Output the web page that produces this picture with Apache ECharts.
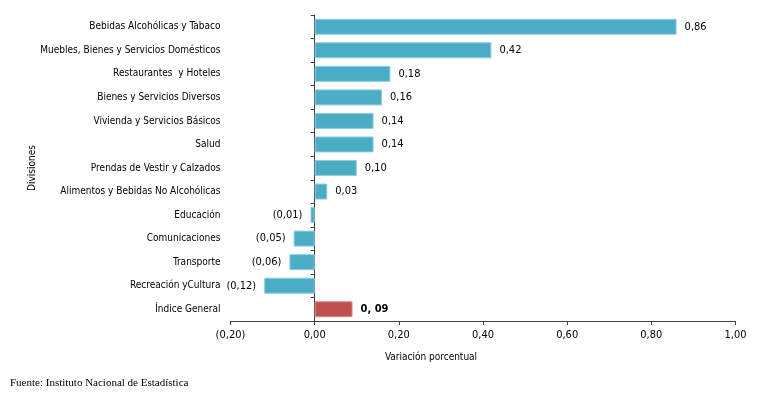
<!DOCTYPE html>
<html><head><meta charset="utf-8">
<script src="https://cdn.jsdelivr.net/npm/echarts@6/dist/echarts.min.js"></script>
<style>html,body{margin:0;padding:0;background:#fff}#c{width:766px;height:397px}</style>
</head><body><div id="c"></div>
<script>
const categories = ["Bebidas Alcohólicas y Tabaco","Muebles, Bienes y Servicios Domésticos","Restaurantes  y Hoteles","Bienes y Servicios Diversos","Vivienda y Servicios Básicos","Salud","Prendas de Vestir y Calzados","Alimentos y Bebidas No Alcohólicas","Educación","Comunicaciones","Transporte","Recreación yCultura","Índice General"];
const values = [0.86,0.42,0.18,0.16,0.14,0.14,0.10,0.03,-0.01,-0.05,-0.06,-0.12,0.09];
const xTicks = [-0.2,0,0.2,0.4,0.6,0.8,1.0];
const FONT = '"DejaVu Sans Condensed","Liberation Sans Narrow","Arial Narrow",sans-serif';
function fmt(v){if(Math.abs(v)<1e-9)v=0;const s=Math.abs(v).toFixed(2).replace('.',',');return v<0?'('+s+')':s;}
const chart = echarts.init(document.getElementById('c'));
const data = values.map((v,i)=>{
  const last = i===values.length-1;
  return {value:v,
    itemStyle:{color: last?'#C0504D':'#4BACC6', borderColor: last?'#D88C8A':'#8FCFE0', borderWidth:1},
    label:{show:true, position: v<0?'left':'right', distance:8,
      formatter: last? fmt(v).replace(',',', ') : fmt(v),
      fontWeight: last?'bold':'normal', color:'#000', fontSize:11, fontFamily:FONT}};
});
chart.setOption({
  animation:false,
  grid:{left:230.5,right:30.5,top:15,bottom:76,containLabel:false,outerBoundsMode:'none'},
  xAxis:{type:'value',min:-0.2,max:1.0,interval:0.2,
    axisLine:{show:true,onZero:false,lineStyle:{color:'#404040'}},
    axisTick:{show:true,length:4,lineStyle:{color:'#404040'}},
    splitLine:{show:false},
    axisLabel:{color:'#000',fontSize:11,fontFamily:FONT,margin:9,formatter:v=>fmt(v)}},
  yAxis:{type:'category',data:categories,inverse:true,
    axisLine:{show:true,onZero:true,lineStyle:{color:'#404040'}},
    axisTick:{show:true,length:4,lineStyle:{color:'#404040'}},
    axisLabel:{color:'#000',fontSize:10,fontFamily:FONT,margin:10}},
  series:[{type:'bar',data:data,barCategoryGap:'32%'}],
  graphic:[
    {type:'text',x:32,y:168,rotation:Math.PI/2,style:{text:'Divisiones',fontSize:10,fontFamily:FONT,fill:'#000',align:'center',verticalAlign:'middle'}},
    {type:'text',x:431,y:357,style:{text:'Variación porcentual',fontSize:10,fontFamily:FONT,fill:'#000',align:'center',verticalAlign:'middle'}},
    {type:'text',x:10,y:383,style:{text:'Fuente: Instituto Nacional de Estadística',fontSize:11,fontFamily:'"Liberation Serif","Times New Roman",serif',fill:'#000',verticalAlign:'middle'}}
  ]
});
</script></body></html>
